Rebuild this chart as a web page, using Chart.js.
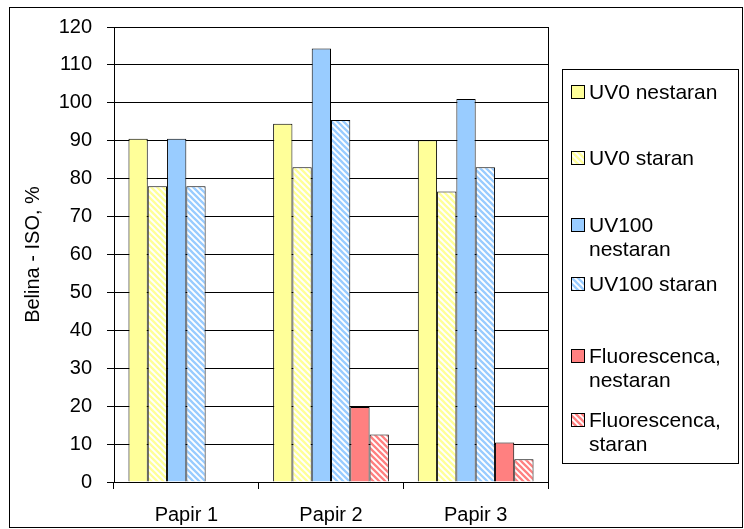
<!DOCTYPE html>
<html>
<head>
<meta charset="utf-8">
<script src="https://cdn.jsdelivr.net/npm/chart.js@4/dist/chart.umd.min.js"></script>
<style>
  html, body { margin: 0; padding: 0; background: #fff; }
  #wrap { width: 744px; height: 529px; position: relative; }
</style>
</head>
<body>
<div id="wrap"><canvas id="c" width="744" height="529"></canvas></div>
<script>
// Paper brightness (ISO) before and after ageing
const categories = ['Papir 1', 'Papir 2', 'Papir 3'];
const uv0Nestaran = [90.5, 94.5, 90.1];
const uv0Staran = [78.0, 83.0, 76.6];
const uv100Nestaran = [90.5, 114.3, 101.0];
const uv100Staran = [78.0, 95.5, 83.0];
const fluorNestaran = [null, 19.8, 10.4];
const fluorStaran = [null, 12.5, 6.0];
const seriesNames = ['UV0 nestaran', 'UV0 staran', 'UV100 nestaran', 'UV100 staran',
                     'Fluorescenca, nestaran', 'Fluorescenca, staran'];
const yAxisTitle = 'Belina - ISO, %';
const yMin = 0, yMax = 120, yStep = 10;

const FONT = '"Liberation Sans", Arial, sans-serif';
const FS = 20;
const LEGEND_FS = 21;

// diagonal hatch fill ("\" direction) on white
function hatch(color) {
  const s = 6;
  const cv = document.createElement('canvas');
  cv.width = s; cv.height = s;
  const g = cv.getContext('2d');
  g.fillStyle = '#fff';
  g.fillRect(0, 0, s, s);
  g.strokeStyle = color;
  g.lineWidth = 2.3;
  g.beginPath();
  g.moveTo(-1, -1); g.lineTo(s + 1, s + 1);
  g.moveTo(-1, s - 1); g.lineTo(1, s + 1);
  g.moveTo(s - 1, -1); g.lineTo(s + 1, 1);
  g.stroke();
  return document.getElementById('c').getContext('2d').createPattern(cv, 'repeat');
}

const YELLOW = '#FFFF99', BLUE = '#99CCFF', RED = '#FF8080';
const fills = [YELLOW, hatch(YELLOW), BLUE, hatch(BLUE), RED, hatch(RED)];
const values = [uv0Nestaran, uv0Staran, uv100Nestaran, uv100Staran, fluorNestaran, fluorStaran];

const datasets = seriesNames.map((name, i) => ({
  label: name,
  data: values[i],
  backgroundColor: fills[i],
  borderColor: '#000',
  borderWidth: 1,
  borderSkipped: 'bottom',
  barPercentage: 1.0,
  categoryPercentage: 0.8
}));

function wrapText(ctx, text, maxW) {
  const words = text.split(' ');
  const lines = [];
  let cur = '';
  words.forEach(w => {
    const t = cur ? cur + ' ' + w : w;
    if (cur && ctx.measureText(t).width > maxW) { lines.push(cur); cur = w; }
    else cur = t;
  });
  if (cur) lines.push(cur);
  return lines;
}

// frame, plot-area right edge and the side legend
const decor = {
  id: 'decor',
  afterDraw(chart) {
    const ctx = chart.ctx;
    const a = chart.chartArea;
    ctx.save();
    ctx.strokeStyle = '#000';
    ctx.lineWidth = 1;
    // plot area right border
    const rx = Math.round(a.right) + 0.5;
    ctx.beginPath();
    ctx.moveTo(rx, Math.round(a.top));
    ctx.lineTo(rx, Math.round(a.bottom) + 1);
    ctx.stroke();
    // outer frame
    ctx.strokeRect(9.5, 7.5, 733, 520);
    // legend box
    ctx.strokeRect(562.5, 69.5, 176, 394);
    const rowY = [92, 158, 225, 284, 356, 420];
    const lineH = 24;
    ctx.font = LEGEND_FS + 'px ' + FONT;
    ctx.textBaseline = 'middle';
    ctx.textAlign = 'left';
    chart.data.datasets.forEach((ds, i) => {
      const y = rowY[i];
      ctx.fillStyle = ds.backgroundColor;
      ctx.fillRect(571.5, y - 6.5, 13, 13);
      ctx.strokeRect(571.5, y - 6.5, 13, 13);
      ctx.fillStyle = '#000';
      wrapText(ctx, ds.label, 142).forEach((ln, k) => {
        ctx.fillText(ln, 589, y + k * lineH + 1);
      });
    });
    ctx.restore();
  }
};

new Chart(document.getElementById('c'), {
  type: 'bar',
  data: { labels: categories, datasets },
  options: {
    responsive: false,
    animation: false,
    devicePixelRatio: 1,
    layout: { padding: { left: 0, top: 25, right: 196, bottom: 0 } },
    plugins: { legend: { display: false }, tooltip: { enabled: false } },
    scales: {
      x: {
        offset: true,
        grid: { display: true, drawOnChartArea: false, drawTicks: true, tickLength: 7,
                color: '#000', offset: true },
        border: { display: true, color: '#000', width: 1 },
        ticks: { color: '#000', font: { family: FONT, size: FS }, padding: 14, maxRotation: 0 },
        afterFit: s => { s.height = 47; }
      },
      y: {
        min: yMin, max: yMax,
        grid: { color: '#000', tickLength: 7, lineWidth: 1 },
        border: { display: true, color: '#000', width: 1 },
        ticks: { stepSize: yStep, color: '#000', font: { family: FONT, size: FS }, padding: 15 },
        title: { display: true, text: yAxisTitle, color: '#000',
                 font: { family: FONT, size: FS }, padding: { top: 21, bottom: 0 } },
        afterFit: s => { s.width = 114; }
      }
    }
  },
  plugins: [decor]
});
</script>
</body>
</html>
